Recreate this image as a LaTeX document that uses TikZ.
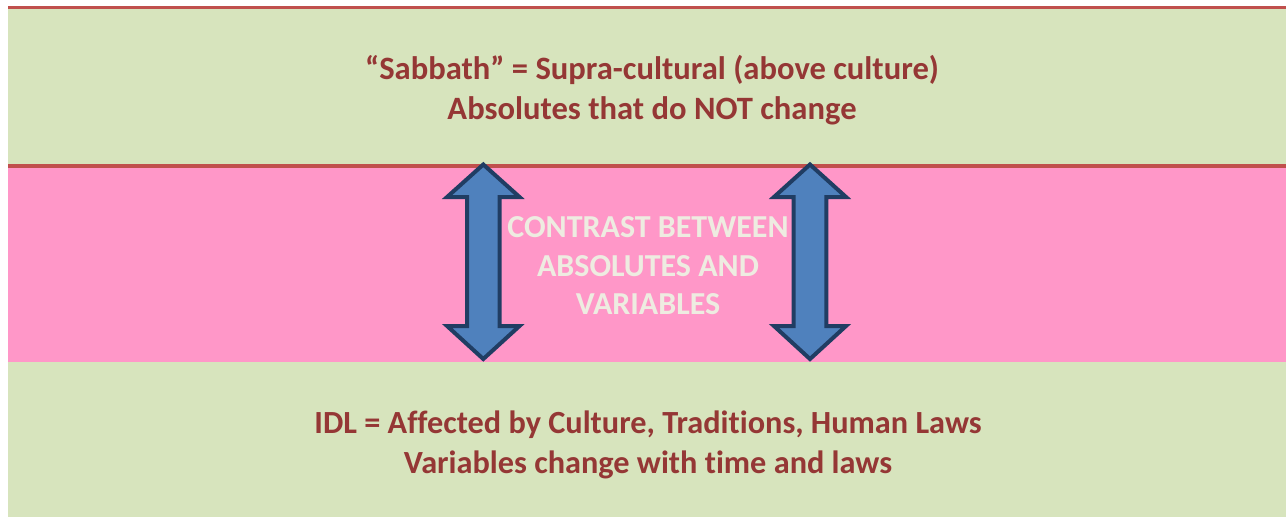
\documentclass[tikz,border=0pt]{standalone}
\usepackage{fontspec}
\setmainfont[Ligatures=NoCommon]{Carlito}
\definecolor{bandgreen}{HTML}{D7E4BD}
\definecolor{bandpink}{HTML}{FF97C8}
\definecolor{linered}{HTML}{C0504D}
\definecolor{txtred}{HTML}{953735}
\definecolor{arrowfill}{HTML}{4F81BD}
\definecolor{arrowline}{HTML}{203D63}
\definecolor{lighttxt}{HTML}{EEECE1}
\tikzset{
  band/.style={fill=#1, draw=none},
  sepline/.style={draw=linered, line width=3.2pt},
  bigarrow/.style={fill=arrowfill, draw=arrowline, line width=4pt, line join=miter},
  maintxt/.style={text=txtred, font=\fontsize{32.6}{39.5}\selectfont\bfseries, align=center, inner sep=0pt},
  bottxt/.style={text=txtred, font=\fontsize{32.3}{40}\selectfont\bfseries, align=center, inner sep=0pt},
  midtxt/.style={text=lighttxt, font=\fontsize{32}{38.5}\selectfont\bfseries, align=center, inner sep=0pt}
}
\begin{document}
\begin{tikzpicture}[x=1pt,y=-1pt]
\useasboundingbox[fill=white] (0,0) rectangle (1286,517);
\fill[band=bandgreen] (8,9) rectangle (1286,165);
\fill[band=bandpink] (8,166) rectangle (1286,362);
\fill[band=bandgreen] (8,362) rectangle (1286,517);
\draw[sepline] (8,7.5) -- (1286,7.5);
\draw[sepline] (8,166) -- (1286,166);
% arrows
\draw[bigarrow] (483.3,164.5) -- (519.5,197) -- (499.7,197) -- (499.7,326) -- (519.5,326) -- (483.3,359) -- (447.1,326) -- (467,326) -- (467,197) -- (447.1,197) -- cycle;
\draw[bigarrow] (810,164.5) -- (846,197) -- (826.3,197) -- (826.3,326) -- (846,326) -- (810,359) -- (774,326) -- (793.7,326) -- (793.7,197) -- (774,197) -- cycle;
\node[maintxt] (top) at (652,90) {“Sabbath” = Supra-cultural (above culture)\\Absolutes that do NOT change};
\node[midtxt] (mid) at (648,266) {CONTRAST BETWEEN\\ABSOLUTES AND\\VARIABLES};
\node[bottxt] (bot) at (648,444.5) {IDL = Affected by Culture, Traditions, Human Laws\\Variables change with time and laws};
\end{tikzpicture}
\end{document}
